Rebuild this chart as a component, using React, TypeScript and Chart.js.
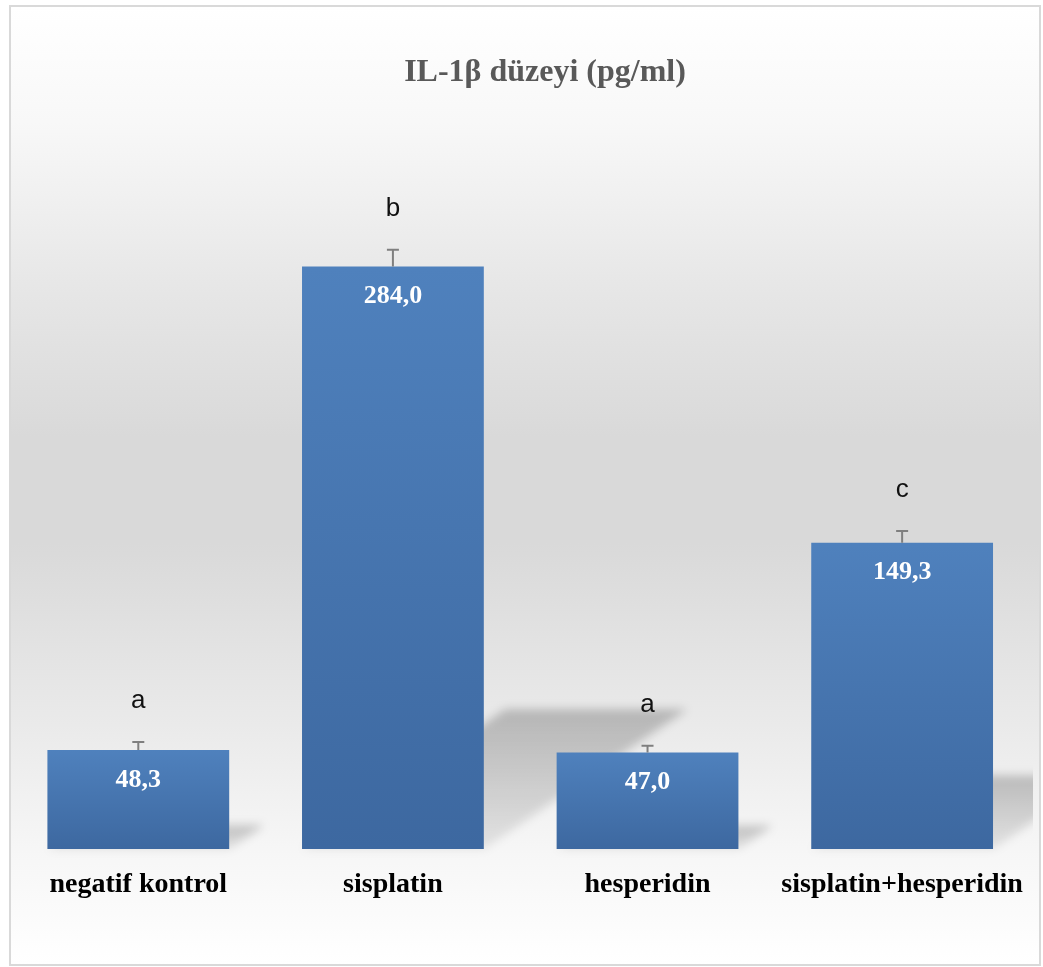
import React, { useEffect, useRef } from "react";
import { Chart, registerables } from "chart.js";

Chart.register(...registerables);

const TITLE = "IL-1β düzeyi (pg/ml)";
const categories = ["negatif kontrol", "sisplatin", "hesperidin", "sisplatin+hesperidin"];
const values = [48.3, 284.0, 47.0, 149.3];
const errors = [3.9, 8.1, 3.3, 5.7];
const letters = ["a", "b", "a", "c"];
const Y_MIN = 0;
const Y_MAX = 300;

const SERIF = "'Liberation Serif', 'Times New Roman', serif";
const SANS = "'Liberation Sans', Arial, sans-serif";

const fmt = (v: number) => v.toFixed(1).replace(".", ",");

const backgroundPlugin = {
  id: "bgGradient",
  beforeDraw(chart: any) {
    const { ctx, width, height } = chart;
    const g = ctx.createLinearGradient(0, 0, 0, height);
    g.addColorStop(0, "#ffffff");
    g.addColorStop(0.12, "#f8f8f8");
    g.addColorStop(0.3, "#e6e6e6");
    g.addColorStop(0.45, "#d9d9d9");
    g.addColorStop(0.56, "#d9d9d9");
    g.addColorStop(0.75, "#eaeaea");
    g.addColorStop(0.88, "#f6f6f6");
    g.addColorStop(1, "#ffffff");
    ctx.save();
    ctx.fillStyle = g;
    ctx.fillRect(0, 0, width, height);
    ctx.restore();
  },
};

const titlePlugin = {
  id: "customTitle",
  afterDraw(chart: any) {
    const { ctx, width } = chart;
    ctx.save();
    ctx.font = `bold 32px ${SERIF}`;
    ctx.fillStyle = "#595959";
    ctx.textAlign = "center";
    ctx.textBaseline = "alphabetic";
    ctx.fillText(TITLE, width / 2 + 20, 74);
    ctx.restore();
  },
};

const shadowPlugin = {
  id: "barShadows",
  beforeDatasetsDraw(chart: any) {
    const meta = chart.getDatasetMeta(0);
    const ctx = chart.ctx;
    ctx.save();
    ctx.beginPath();
    ctx.rect(0, 0, chart.width - 6, chart.height);
    ctx.clip();
    ctx.filter = "blur(5px)";
    meta.data.forEach((el: any) => {
      const { x, y, base, width } = el.getProps(["x", "y", "base", "width"], true);
      const h = base - y;
      const L = x - width / 2;
      const R = x + width / 2;
      const dy = h * 0.24;
      const dx = h * 0.349;
      const grad = ctx.createLinearGradient(0, base - dy, 0, base);
      grad.addColorStop(0, "rgba(0,0,0,0.22)");
      grad.addColorStop(1, "rgba(0,0,0,0.08)");
      ctx.fillStyle = grad;
      ctx.beginPath();
      ctx.moveTo(L, base);
      ctx.lineTo(R, base);
      ctx.lineTo(R + dx, base - dy);
      ctx.lineTo(L + dx, base - dy);
      ctx.closePath();
      ctx.fill();
    });
    ctx.restore();
  },
};

const annotationPlugin = {
  id: "barAnnotations",
  afterDatasetsDraw(chart: any) {
    const meta = chart.getDatasetMeta(0);
    const ctx = chart.ctx;
    const ys = chart.scales.y;
    ctx.save();
    meta.data.forEach((el: any, i: number) => {
      const { x, y } = el.getProps(["x", "y"], true);
      const errTop = ys.getPixelForValue(values[i] + errors[i]);
      // error bar
      ctx.strokeStyle = "#7f7f7f";
      ctx.lineWidth = 2;
      ctx.beginPath();
      ctx.moveTo(x, y);
      ctx.lineTo(x, errTop);
      ctx.moveTo(x - 6, errTop);
      ctx.lineTo(x + 6, errTop);
      ctx.stroke();
      // value label
      ctx.fillStyle = "#ffffff";
      ctx.font = `bold 26px ${SERIF}`;
      ctx.textAlign = "center";
      ctx.textBaseline = "middle";
      ctx.fillText(fmt(values[i]), x, y + 30);
      // significance letter
      ctx.fillStyle = "#111111";
      ctx.font = `26px ${SANS}`;
      ctx.textBaseline = "alphabetic";
      ctx.fillText(letters[i], x, errTop - 34);
    });
    ctx.restore();
  },
};

export default function App() {
  const canvasRef = useRef<HTMLCanvasElement | null>(null);

  useEffect(() => {
    const canvas = canvasRef.current;
    if (!canvas) return;
    const chart = new Chart(canvas, {
      type: "bar",
      data: {
        labels: categories,
        datasets: [
          {
            data: values,
            barPercentage: 0.714,
            categoryPercentage: 1,
            borderWidth: 0,
            backgroundColor: (c: any) => {
              const ch = c.chart;
              if (!ch.chartArea || !ch.scales.y) return "#4a7bb7";
              const ys = ch.scales.y;
              const top = ys.getPixelForValue(values[c.dataIndex] ?? 0);
              const base = ys.getPixelForValue(0);
              const g = ch.ctx.createLinearGradient(0, top, 0, base);
              g.addColorStop(0, "#4f81bd");
              g.addColorStop(1, "#3d68a0");
              return g;
            },
          },
        ],
      },
      options: {
        animation: false,
        responsive: true,
        maintainAspectRatio: false,
        layout: { padding: { top: 226.6, bottom: 43, left: 0, right: 8.6 } },
        plugins: {
          legend: { display: false },
          title: { display: false },
          tooltip: { enabled: false },
        },
        scales: {
          x: {
            grid: { display: false, drawTicks: false },
            border: { display: false },
            ticks: {
              color: "#000000",
              font: { family: SERIF, size: 28, weight: "bold", lineHeight: 1.5 },
              padding: 15,
              maxRotation: 0,
              autoSkip: false,
            },
          },
          y: { display: false, min: Y_MIN, max: Y_MAX },
        },
      },
      plugins: [backgroundPlugin, shadowPlugin, annotationPlugin, titlePlugin],
    });
    return () => chart.destroy();
  }, []);

  return (
    <div
      style={{
        position: "absolute",
        left: 9,
        top: 5,
        width: 1032,
        height: 961,
        boxSizing: "border-box",
        border: "2px solid #d9d9d9",
      }}
    >
      <div style={{ position: "relative", width: "100%", height: "100%" }}>
        <canvas ref={canvasRef} />
      </div>
    </div>
  );
}
